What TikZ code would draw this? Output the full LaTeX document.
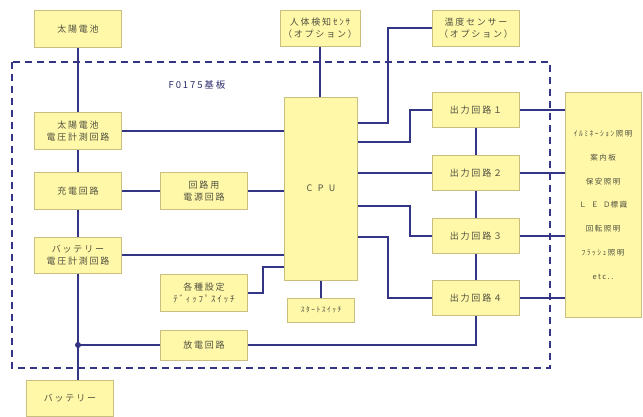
\documentclass[tikz,border=0pt]{standalone}
\usepackage{fontspec}
\newfontfamily\jp[LetterSpace=20]{Noto Sans CJK JP}
\newfontfamily\jpw[LetterSpace=60]{Noto Sans CJK JP}
\definecolor{boxfill}{RGB}{255,248,168}
\definecolor{boxline}{RGB}{200,190,128}
\definecolor{wirec}{RGB}{52,52,132}
\definecolor{txt}{RGB}{80,80,64}
\tikzset{
  blk/.style={draw=boxline,fill=boxfill,line width=1pt,minimum width=87,minimum height=37,
    align=center,inner sep=1pt,text=txt,font=\jp\fontsize{9}{12.5}\selectfont},
  wire/.style={draw=wirec,line width=1.6pt},
  board/.style={draw=wirec,line width=1.6pt,dash pattern=on 7pt off 5pt},
}
\begin{document}
\begin{tikzpicture}[x=1pt,y=-1pt]
\useasboundingbox (0,0) rectangle (643,416);
\draw[board] (12,62) rectangle (550,368);
\node[text=wirec!80!black,font=\jp\fontsize{9.5}{11}\selectfont] (brd) at (197,85) {F0175基板};
\node[blk] (sol) at (78,29) {太陽電池};
\node[blk,minimum width=80,minimum height=36] (hum) at (320,28) {人体検知ｾﾝｻ\\（オプション）};
\node[blk,minimum height=36] (tmp) at (476,28) {温度センサー\\（オプション）};
\node[blk] (solm) at (78,131) {太陽電池\\電圧計測回路};
\node[blk] (chg) at (78,191) {充電回路};
\node[blk] (pwr) at (204,191) {回路用\\電源回路};
\node[blk,minimum height=36] (batm) at (78,255) {バッテリー\\電圧計測回路};
\node[blk] (dip) at (204,293) {各種設定\\ﾃﾞｨｯﾌﾟｽｲｯﾁ};
\node[blk,minimum height=30] (dis) at (204,345) {放電回路};
\node[blk,minimum height=36] (bat) at (70,398) {バッテリー};
\node[blk,minimum width=73,minimum height=183,font=\jpw\fontsize{9}{11}\selectfont] (cpu) at (321,188.5) {CPU};
\node[blk,minimum width=67,minimum height=24,font=\jp\fontsize{7.5}{9}\selectfont] (sta) at (321,310) {ｽﾀｰﾄｽｲｯﾁ};
\node[blk,minimum height=35] (o1) at (476,110) {出力回路１};
\node[blk,minimum height=35] (o2) at (476,173) {出力回路２};
\node[blk,minimum height=35] (o3) at (476,236) {出力回路３};
\node[blk,minimum height=35] (o4) at (476,298) {出力回路４};
\node[blk,minimum width=76,minimum height=225,font=\jp\fontsize{7.5}{23.7}\selectfont] (out) at (603,205)
  {ｲﾙﾐﾈｰｼｮﾝ照明\\案内板\\保安照明\\{\jpw ＬＥＤ}標識\\回転照明\\ﾌﾗｯｼｭ照明\\etc..};
\coordinate (jn) at (78,345);
\coordinate (dj) at (263,267);
\coordinate (bx1) at (388,0);
\coordinate (bx2) at (410,0);
\draw[wire] (sol) -- (solm);
\draw[wire] (solm) -- (chg);
\draw[wire] (chg) -- (batm);
\draw[wire] (batm.south) -- (jn) -- (jn |- bat.north);
\fill[wirec] (jn) circle (3);
\draw[wire] (jn) -- (dis.west);
\draw[wire] (dis.east) -| (o4.south);
\draw[wire] (solm.east) -- (solm.east -| cpu.west);
\draw[wire] (chg) -- (pwr);
\draw[wire] (pwr.east) -- (pwr.east -| cpu.west);
\draw[wire] (batm.east) -- (batm.east -| cpu.west);
\draw[wire] (dip.east) -| (dj) -- (dj -| cpu.west);
\draw[wire] (hum.south) -- (hum.south |- cpu.north);
\draw[wire] (cpu.south) -- (cpu.south |- sta.north);
\draw[wire] (cpu.east |- 0,123) -| (bx1 |- tmp.west) -- (tmp.west);
\draw[wire] (cpu.east |- 0,142) -| (bx2 |- o1.west) -- (o1.west);
\draw[wire] (cpu.east |- o2.west) -- (o2.west);
\draw[wire] (cpu.east |- 0,206) -| (bx2 |- o3.west) -- (o3.west);
\draw[wire] (cpu.east |- 0,237) -| (bx1 |- o4.west) -- (o4.west);
\draw[wire] (o1) -- (o2);
\draw[wire] (o2) -- (o3);
\draw[wire] (o3) -- (o4);
\foreach \o in {o1,o2,o3,o4}
  \draw[wire] (\o.east) -- (\o.east -| out.west);
\end{tikzpicture}
\end{document}
